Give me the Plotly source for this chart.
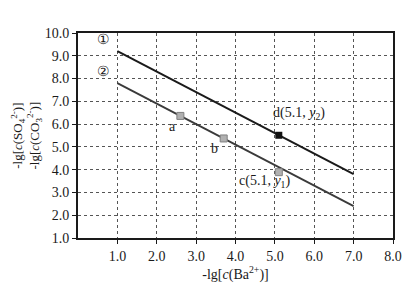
import plotly.graph_objects as go

# data
line1_x = [1.0, 7.0]
line1_y = [9.2, 3.8]
line2_x = [1.0, 7.0]
line2_y = [7.8, 2.4]
pts_gray_x = [2.6, 3.7, 5.1]   # a, b, c
pts_gray_y = [6.36, 5.37, 3.89]
pt_d_x = [5.1]
pt_d_y = [5.51]
x_ticks = [1, 2, 3, 4, 5, 6, 7, 8]
x_ticklabels = ["1.0", "2.0", "3.0", "4.0", "5.0", "6.0", "7.0", "8.0"]
y_ticks = [1, 2, 3, 4, 5, 6, 7, 8, 9, 10]
y_ticklabels = ["1.0", "2.0", "3.0", "4.0", "5.0", "6.0", "7.0", "8.0", "9.0", "10.0"]

serif = "Liberation Serif"

fig = go.Figure()
fig.add_trace(go.Scatter(x=line1_x, y=line1_y, mode="lines",
                         line=dict(color="#1a1a1a", width=2), showlegend=False))
fig.add_trace(go.Scatter(x=line2_x, y=line2_y, mode="lines",
                         line=dict(color="#3a3a3a", width=1.8), showlegend=False))
fig.add_trace(go.Scatter(x=pts_gray_x, y=pts_gray_y, mode="markers",
                         marker=dict(symbol="square", size=7, color="#b0b0b0",
                                     line=dict(color="#808080", width=1)),
                         showlegend=False))
fig.add_trace(go.Scatter(x=pt_d_x, y=pt_d_y, mode="markers",
                         marker=dict(symbol="square", size=7, color="#111111"),
                         showlegend=False))

ann = [
    dict(x=0.64, y=9.7, text="①"),
    dict(x=0.64, y=8.3, text="②"),
    dict(x=2.4, y=5.9, text="a"),
    dict(x=3.46, y=4.95, text="b"),
    dict(x=4.75, y=3.5, text="c(5.1, <i>y</i><sub>1</sub>)"),
    dict(x=5.6, y=6.45, text="d(5.1, <i>y</i><sub>2</sub>)"),
]
for a in ann:
    fig.add_annotation(x=a["x"], y=a["y"], text=a["text"], showarrow=False,
                       xref="x", yref="y",
                       font=dict(family=serif, size=14, color="#1a1a1a"))

fig.add_annotation(
    x=-0.165, y=0.5, xref="paper", yref="paper", textangle=-90, showarrow=False,
    xanchor="center", yanchor="middle",
    text="-lg[<i>c</i>(SO<sub>4</sub><sup>2-</sup>)]<br>-lg[<i>c</i>(CO<sub>3</sub><sup>2-</sup>)]",
    font=dict(family=serif, size=13, color="#1a1a1a"))

fig.update_layout(
    width=415, height=290,
    margin=dict(l=78, r=22, t=33, b=48),
    paper_bgcolor="white", plot_bgcolor="white",
    font=dict(family=serif, size=14, color="#1a1a1a"),
    xaxis=dict(range=[0, 8], tickvals=x_ticks, ticktext=x_ticklabels,
               showgrid=True, gridcolor="#555555", griddash="dot", gridwidth=1,
               showline=True, linecolor="#1a1a1a", linewidth=2, mirror=True,
               ticks="outside", ticklen=4, tickcolor="#1a1a1a",
               tickfont=dict(family=serif, size=14),
               zeroline=False,
               title=dict(text="-lg[<i>c</i>(Ba<sup>2+</sup>)]", standoff=4,
                          font=dict(family=serif, size=14))),
    yaxis=dict(range=[1, 10], tickvals=y_ticks, ticktext=y_ticklabels,
               showgrid=True, gridcolor="#555555", griddash="dot", gridwidth=1,
               showline=True, linecolor="#1a1a1a", linewidth=2, mirror=True,
               ticks="outside", ticklen=4, tickcolor="#1a1a1a",
               tickfont=dict(family=serif, size=14),
               zeroline=False),
)

fig.write_html("out.html")
